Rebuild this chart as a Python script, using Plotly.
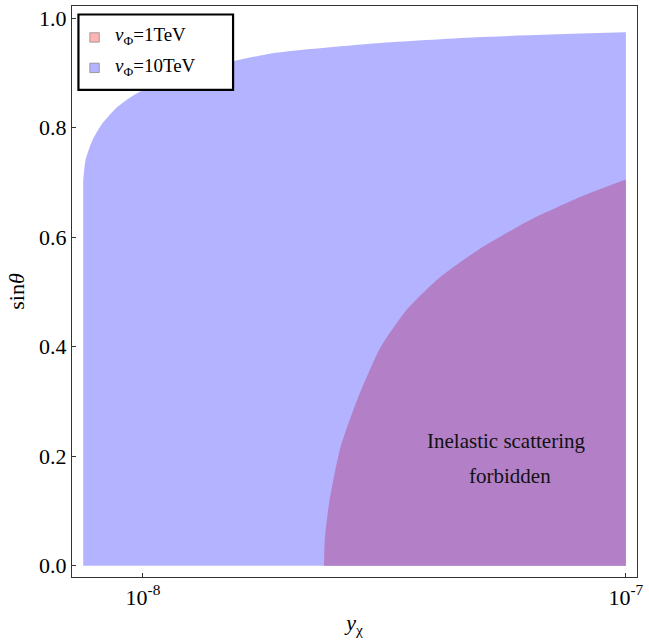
import plotly.graph_objects as go
import numpy as np

# Blue region (v_Phi = 10 TeV) upper boundary
blue_y = [7.52e-9, 7.60e-9, 7.85e-9, 8.23e-9, 8.76e-9, 9.31e-9, 9.94e-9,
          1.243e-8, 1.61e-8, 1.90e-8, 3.05e-8, 4.90e-8, 1.0e-7]
blue_s = [0.703, 0.740, 0.776, 0.807, 0.834, 0.852, 0.867,
          0.900, 0.925, 0.937, 0.954, 0.965, 0.974]

# Overlap region (v_Phi = 1 TeV) upper boundary
pink_y = [2.37e-8, 2.38e-8, 2.43e-8, 2.56e-8, 2.78e-8, 3.10e-8, 3.52e-8,
          4.11e-8, 4.97e-8, 6.29e-8, 7.97e-8, 1.0e-7]
pink_s = [0.0, 0.05, 0.115, 0.214, 0.304, 0.398, 0.468,
          0.526, 0.578, 0.630, 0.672, 0.705]

x_tickvals = [1e-8, 1e-7]
x_ticktext = ["10<sup>-8</sup>", "10<sup>-7</sup>"]
y_tickvals = [0.0, 0.2, 0.4, 0.6, 0.8, 1.0]

legend_labels = ["<i>v</i><sub>Φ</sub>=1TeV", "<i>v</i><sub>Φ</sub>=10TeV"]
legend_colors = ["rgb(255,179,179)", "rgb(179,179,255)"]

BLUE = "rgb(179,179,255)"
PURPLE = "rgb(179,128,200)"
FONT = "Liberation Serif"
AX = "#333333"

fig = go.Figure()

fig.add_trace(go.Scatter(x=blue_y, y=blue_s, fill="tozeroy", mode="lines",
                         line=dict(width=0, shape="spline", smoothing=0.6, color=BLUE),
                         fillcolor=BLUE, showlegend=False, hoverinfo="skip"))
fig.add_trace(go.Scatter(x=pink_y, y=pink_s, fill="tozeroy", mode="lines",
                         line=dict(width=0, shape="spline", smoothing=0.6, color=PURPLE),
                         fillcolor=PURPLE, showlegend=False, hoverinfo="skip"))

W, H = 649, 642
ml, mr, mt, mb = 72, 7, 5, 65
pw, ph = W - ml - mr, H - mt - mb

def pxx(p):
    return (p - ml) / pw

def pxy(p):
    return (H - mb - p) / ph

shapes = []
shapes.append(dict(type="rect", xref="paper", yref="paper",
                   x0=pxx(78.5), x1=pxx(234.5), y0=pxy(89), y1=pxy(13.5),
                   line=dict(color="black", width=2.2), fillcolor="white",
                   layer="above"))
annotations = []
for i, (lab, col) in enumerate(zip(legend_labels, legend_colors)):
    cy = 36.5 + i * 30.5
    shapes.append(dict(type="rect", xref="paper", yref="paper",
                       x0=pxx(90), x1=pxx(99.5), y0=pxy(cy + 4.7), y1=pxy(cy - 4.7),
                       line=dict(color="rgb(140,140,140)", width=0.8),
                       fillcolor=col, layer="above"))
    annotations.append(dict(xref="paper", yref="paper", x=pxx(113), y=pxy(cy - 1),
                            text=lab, showarrow=False, xanchor="left", yanchor="middle",
                            font=dict(family=FONT, size=19, color="black")))

annotations.append(dict(x=-7.248, y=0.228, xref="x", yref="y",
                        text="Inelastic scattering", showarrow=False,
                        font=dict(family=FONT, size=21, color="#111")))
annotations.append(dict(x=-7.241, y=0.164, xref="x", yref="y",
                        text="forbidden", showarrow=False,
                        font=dict(family=FONT, size=21, color="#111")))

fig.update_layout(
    width=W, height=H,
    margin=dict(l=ml, r=mr, t=mt, b=mb),
    plot_bgcolor="white", paper_bgcolor="white",
    shapes=shapes, annotations=annotations,
    font=dict(family=FONT, size=18, color="black"),
    showlegend=False,
)
fig.update_xaxes(type="log", range=[-8.147, -6.977],
                 tickvals=x_tickvals, ticktext=x_ticktext,
                 showgrid=False, zeroline=False,
                 showline=True, mirror=True, linecolor=AX, linewidth=1.3,
                 ticks="inside", ticklen=4, tickcolor=AX,
                 tickfont=dict(family=FONT, size=22, color="black"),
                 title=dict(text="<i>y</i><sub>χ</sub>", standoff=6,
                            font=dict(family=FONT, size=22, color="black")))
fig.update_yaxes(range=[-0.0205, 1.0219],
                 tickvals=y_tickvals, tickformat=".1f",
                 showgrid=False, zeroline=False,
                 showline=True, mirror=True, linecolor=AX, linewidth=1.3,
                 ticks="inside", ticklen=4, tickcolor=AX,
                 tickfont=dict(family=FONT, size=22, color="black"),
                 title=dict(text="sin<i>θ</i>", standoff=8,
                            font=dict(family=FONT, size=22, color="black")))

fig.write_html("out.html")
